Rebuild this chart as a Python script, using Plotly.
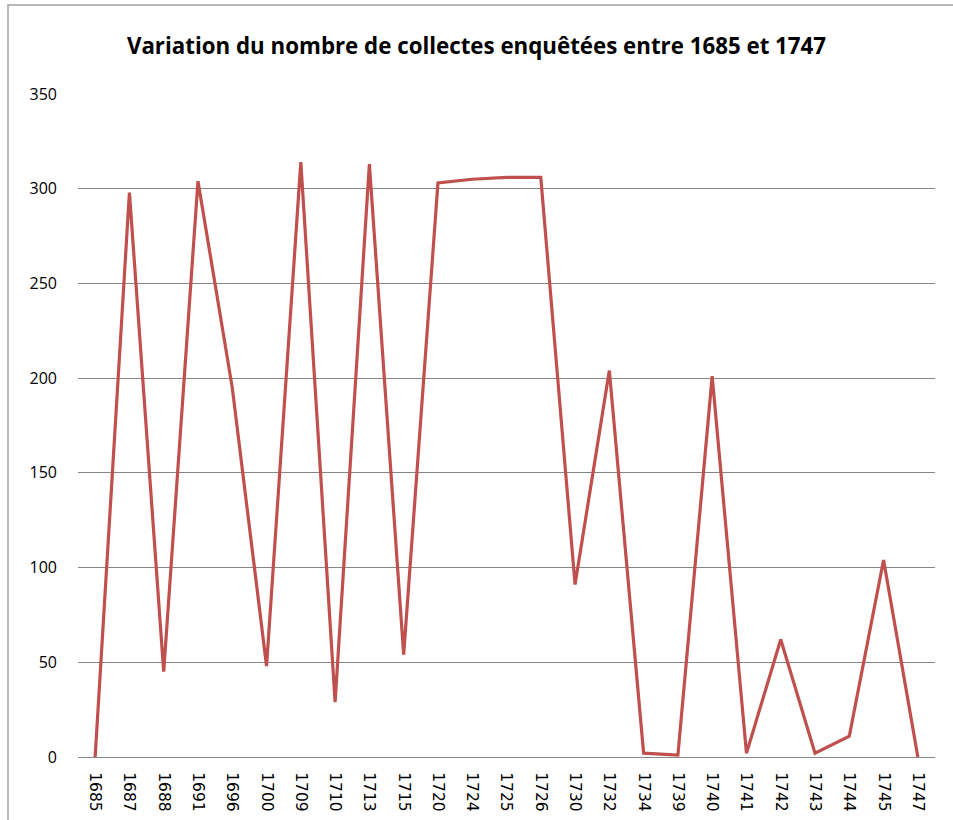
import plotly.graph_objects as go

years = ["1685", "1687", "1688", "1691", "1696", "1700", "1709", "1710", "1713", "1715",
         "1720", "1724", "1725", "1726", "1730", "1732", "1734", "1739", "1740", "1741",
         "1742", "1743", "1744", "1745", "1747"]
collectes = [0, 298, 45, 304, 195, 48, 314, 29, 313, 54,
             303, 305, 306, 306, 91, 204, 2, 1, 201, 2,
             62, 2, 11, 104, 0]

title_text = "Variation du nombre de collectes enquêtées entre 1685 et 1747"

fig = go.Figure()
fig.add_trace(go.Scatter(
    x=years, y=collectes, mode="lines",
    line=dict(color="#C0504D", width=3.2),
    hoverinfo="x+y",
))

fig.update_layout(
    width=953, height=820,
    margin=dict(l=78, r=18, t=94, b=63),
    paper_bgcolor="white", plot_bgcolor="white",
    showlegend=False,
    title=dict(text="<b>" + title_text + "</b>", x=0.5, xanchor="center",
               y=1 - 46 / 820, yanchor="middle",
               font=dict(family="Open Sans", size=22.3, color="black")),
    font=dict(family="Open Sans", color="black"),
    xaxis=dict(type="category", tickangle=90, showgrid=False, automargin=False,
               showline=True, linecolor="#868686", linewidth=1.3,
               ticks="", tickfont=dict(size=15.5, family="DejaVu Sans", color="black"),
               ticklabelstandoff=11, range=[-0.5, len(years) - 0.5], fixedrange=True),
    yaxis=dict(range=[0, 350], dtick=50, showgrid=True, gridcolor="#868686", gridwidth=1.3,
               zeroline=False, showline=False, ticks="", automargin=False,
               tickfont=dict(size=16, family="Open Sans", color="black"),
               ticklabelstandoff=20, fixedrange=True),
)

fig.add_shape(type="rect", xref="paper", yref="paper",
              x0=(8 - 78) / 857, x1=(965 - 78) / 857,
              y0=(757 - 835) / 663, y1=(757 - 5) / 663,
              line=dict(color="#A0A0A0", width=1.5), fillcolor="rgba(0,0,0,0)",
              layer="below")

fig.write_html("out.html", config={"displayModeBar": False},
               post_script="document.body.style.margin='0';document.body.style.overflow='hidden';")
